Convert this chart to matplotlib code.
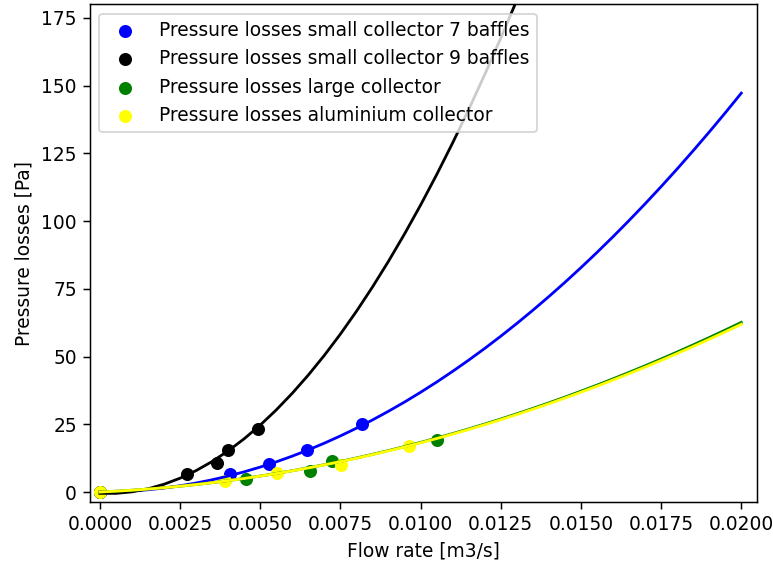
import matplotlib
matplotlib.use("Agg")
import matplotlib.pyplot as plt

DPI = 134

# Measured points: flow rate [m3/s] and pressure loss [Pa]
flow_7_baffles = [0.0, 0.00405, 0.00528, 0.00645, 0.00818]
dp_7_baffles = [0.0, 6.5, 10.3, 15.5, 25.1]

flow_9_baffles = [0.0, 0.00272, 0.00366, 0.00399, 0.00494]
dp_9_baffles = [0.0, 6.6, 10.6, 15.4, 23.1]

flow_large = [0.0, 0.00457, 0.00655, 0.00723, 0.01052]
dp_large = [0.0, 4.8, 7.7, 11.5, 19.1]

flow_alu = [0.0, 0.00391, 0.00551, 0.00751, 0.00964]
dp_alu = [0.0, 4.1, 7.1, 9.8, 17.1]

# Fitted curves, tabulated every 0.0005 m3/s
fit_flow = [0.0, 0.0005, 0.001, 0.0015, 0.002, 0.0025, 0.003, 0.0035, 0.004, 0.0045,
            0.005, 0.0055, 0.006, 0.0065, 0.007, 0.0075, 0.008, 0.0085, 0.009, 0.0095,
            0.01, 0.0105, 0.011, 0.0115, 0.012, 0.0125, 0.013, 0.0135, 0.014, 0.0145,
            0.015, 0.0155, 0.016, 0.0165, 0.017, 0.0175, 0.018, 0.0185, 0.019, 0.0195,
            0.02]
fit_7_baffles = [0.0, 0.09, 0.37, 0.83, 1.47, 2.3, 3.31, 4.51, 5.89, 7.45,
                 9.2, 11.13, 13.25, 15.55, 18.03, 20.7, 23.55, 26.59, 29.81, 33.21,
                 36.8, 40.57, 44.53, 48.67, 52.99, 57.5, 62.19, 67.07, 72.13, 77.37,
                 82.8, 88.41, 94.21, 100.19, 106.35, 112.7, 119.23, 125.95, 132.85, 139.93,
                 147.2]
fit_9_baffles = [-0.5, -0.5, 0.06, 1.18, 2.86, 5.1, 7.9, 11.26, 15.18, 19.66,
                 24.7, 30.3, 36.46, 43.18, 50.46, 58.3, 66.7, 75.66, 85.18, 95.26,
                 105.9, 117.1, 128.86, 141.18, 154.06, 167.5, 181.5, 196.06]
fit_large = [0.0, 0.3, 0.66, 1.09, 1.58, 2.14, 2.76, 3.45, 4.2, 5.02,
             5.9, 6.85, 7.86, 8.94, 10.08, 11.29, 12.56, 13.9, 15.3, 16.77,
             18.3, 19.9, 21.56, 23.29, 25.08, 26.94, 28.86, 30.85, 32.9, 35.02,
             37.2, 39.45, 41.76, 44.14, 46.58, 49.09, 51.66, 54.3, 57.0, 59.77,
             62.6]
fit_alu = [0.0, 0.3, 0.66, 1.09, 1.58, 2.14, 2.76, 3.44, 4.19, 5.0,
           5.88, 6.81, 7.82, 8.89, 10.02, 11.21, 12.47, 13.8, 15.18, 16.63,
           18.15, 19.73, 21.37, 23.08, 24.85, 26.69, 28.59, 30.55, 32.58, 34.67,
           36.83, 39.04, 41.33, 43.68, 46.09, 48.56, 51.1, 53.71, 56.37, 59.1,
           61.9]

fig = plt.figure(figsize=(773 / DPI, 563 / DPI), dpi=DPI)
ax = fig.add_axes([0.1164, 0.1083, 0.9797 - 0.1164, 0.9924 - 0.1083])

ax.scatter(flow_7_baffles, dp_7_baffles, color='blue', label='Pressure losses small collector 7 baffles')
ax.scatter(flow_9_baffles, dp_9_baffles, color='black', label='Pressure losses small collector 9 baffles')
ax.scatter(flow_large, dp_large, color='green', label='Pressure losses large collector')
ax.scatter(flow_alu, dp_alu, color='yellow', label='Pressure losses aluminium collector')

ax.plot(fit_flow, fit_7_baffles, color='blue')
ax.plot(fit_flow[:len(fit_9_baffles)], fit_9_baffles, color='black')
ax.plot(fit_flow, fit_large, color='green')
ax.plot(fit_flow, fit_alu, color='yellow')

ax.set_xlim(-0.00031, 0.0205)
ax.set_ylim(-3.7, 180)
ax.set_xticks([0.0, 0.0025, 0.005, 0.0075, 0.01, 0.0125, 0.015, 0.0175, 0.02])
ax.set_xlabel('Flow rate [m3/s]')
ax.set_ylabel('Pressure losses [Pa]')
ax.legend(loc='upper left')

fig.savefig('out.png', dpi=DPI)
